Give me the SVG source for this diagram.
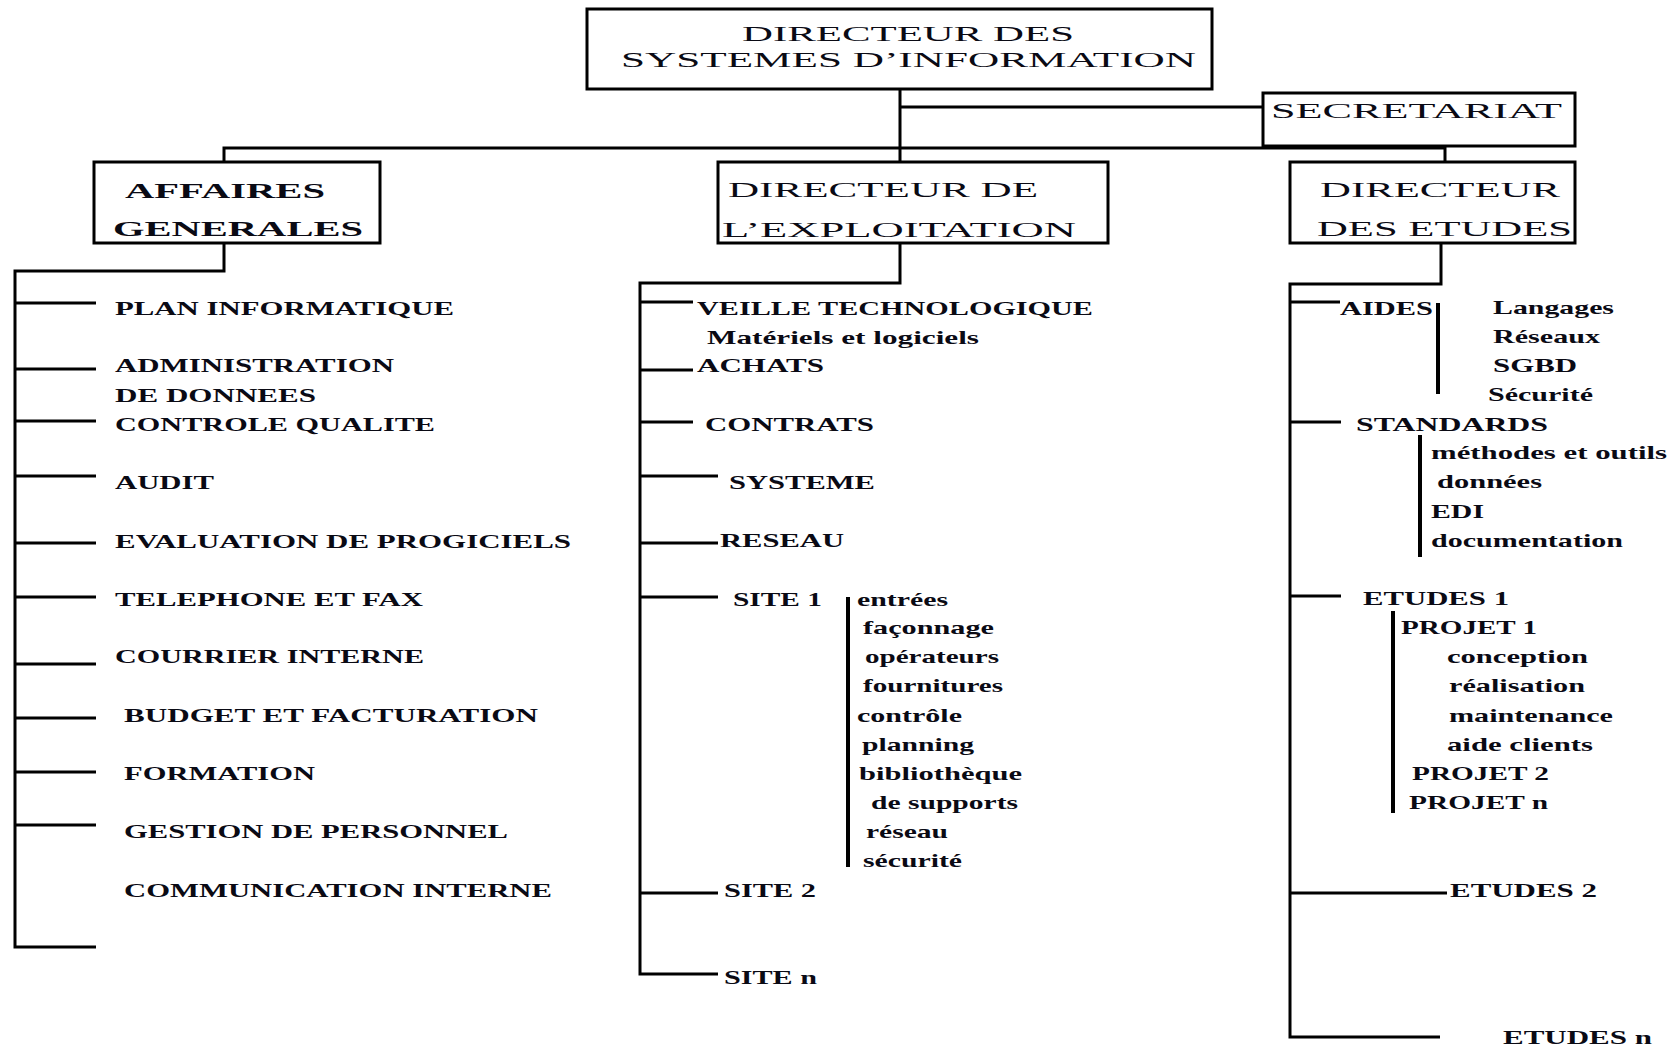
<svg xmlns="http://www.w3.org/2000/svg" width="1674" height="1045" viewBox="0 0 1674 1045">
<style>
.box{fill:#fff;stroke:#000;stroke-width:3}
.ln{fill:none;stroke:#000;stroke-width:3}
.bar{fill:none;stroke:#000;stroke-width:4}
text{font-family:"Liberation Serif","Times New Roman",serif;fill:#0a0a14}
.h{font-size:22px}
.hb{font-size:22px;font-weight:bold}
.t{font-size:19px;font-weight:bold}
</style>
<rect width="1674" height="1045" fill="#fff"/>
<g id="connectors">
<path class="ln" d="M900,90 V162 M900,107 H1263 M224,162 V148 H1445 V162"/>
<path class="ln" d="M224,243 V271 H15 V947 H96 M15,303 H96 M15,369 H96 M15,421 H96 M15,476 H96 M15,543 H96 M15,597 H96 M15,664 H96 M15,718 H96 M15,772 H96 M15,825 H96"/>
<path class="ln" d="M900,243 V283 H640 V974 H718 M640,302 H693 M640,370 H693 M640,422 H693 M640,476 H718 M640,543 H718 M640,597 H718 M640,893 H718"/>
<path class="ln" d="M1441,243 V284 H1290 V1037 H1440 M1290,302 H1340 M1290,422 H1341 M1290,596 H1341 M1290,893 H1447"/>
<path class="bar" d="M848,597 V867 M1438,303 V394 M1420,435 V557 M1393,611 V813"/>
</g>
<g id="dsi">
<rect class="box" x="587" y="9" width="625" height="80"/>
<text class="h" x="742" y="41" textLength="332" lengthAdjust="spacingAndGlyphs">DIRECTEUR DES</text>
<text class="h" x="621" y="67" textLength="575" lengthAdjust="spacingAndGlyphs">SYSTEMES D’INFORMATION</text>
</g>
<g id="secretariat">
<rect class="box" x="1263" y="93" width="312" height="53"/>
<text class="h" x="1271" y="118" textLength="291" lengthAdjust="spacingAndGlyphs">SECRETARIAT</text>
</g>
<g id="affaires-generales">
<rect class="box" x="94" y="162" width="286" height="81"/>
<text class="hb" x="125" y="198" textLength="200" lengthAdjust="spacingAndGlyphs">AFFAIRES</text>
<text class="hb" x="113" y="236" textLength="250" lengthAdjust="spacingAndGlyphs">GENERALES</text>
</g>
<g id="directeur-exploitation">
<rect class="box" x="718" y="162" width="390" height="81"/>
<text class="h" x="728" y="197" textLength="310" lengthAdjust="spacingAndGlyphs">DIRECTEUR DE</text>
<text class="h" x="722" y="237" textLength="354" lengthAdjust="spacingAndGlyphs">L’EXPLOITATION</text>
</g>
<g id="directeur-etudes">
<rect class="box" x="1290" y="162" width="285" height="81"/>
<text class="h" x="1320" y="197" textLength="240" lengthAdjust="spacingAndGlyphs">DIRECTEUR</text>
<text class="h" x="1317" y="236" textLength="255" lengthAdjust="spacingAndGlyphs">DES ETUDES</text>
</g>
<g id="affaires-items">
<text class="t" x="115" y="315" textLength="339" lengthAdjust="spacingAndGlyphs">PLAN INFORMATIQUE</text>
<text class="t" x="115" y="372" textLength="279" lengthAdjust="spacingAndGlyphs">ADMINISTRATION</text>
<text class="t" x="115" y="402" textLength="201" lengthAdjust="spacingAndGlyphs">DE DONNEES</text>
<text class="t" x="115" y="431" textLength="320" lengthAdjust="spacingAndGlyphs">CONTROLE QUALITE</text>
<text class="t" x="115" y="489" textLength="99" lengthAdjust="spacingAndGlyphs">AUDIT</text>
<text class="t" x="115" y="548" textLength="456" lengthAdjust="spacingAndGlyphs">EVALUATION DE PROGICIELS</text>
<text class="t" x="115" y="606" textLength="308" lengthAdjust="spacingAndGlyphs">TELEPHONE ET FAX</text>
<text class="t" x="115" y="663" textLength="309" lengthAdjust="spacingAndGlyphs">COURRIER INTERNE</text>
<text class="t" x="124" y="722" textLength="414" lengthAdjust="spacingAndGlyphs">BUDGET ET FACTURATION</text>
<text class="t" x="124" y="780" textLength="191" lengthAdjust="spacingAndGlyphs">FORMATION</text>
<text class="t" x="124" y="838" textLength="384" lengthAdjust="spacingAndGlyphs">GESTION DE PERSONNEL</text>
<text class="t" x="124" y="897" textLength="428" lengthAdjust="spacingAndGlyphs">COMMUNICATION INTERNE</text>
</g>
<g id="exploitation-items">
<text class="t" x="697" y="315" textLength="396" lengthAdjust="spacingAndGlyphs">VEILLE TECHNOLOGIQUE</text>
<text class="t" x="707" y="344" textLength="272" lengthAdjust="spacingAndGlyphs">Matériels et logiciels</text>
<text class="t" x="697" y="372" textLength="127" lengthAdjust="spacingAndGlyphs">ACHATS</text>
<text class="t" x="705" y="431" textLength="169" lengthAdjust="spacingAndGlyphs">CONTRATS</text>
<text class="t" x="729" y="489" textLength="146" lengthAdjust="spacingAndGlyphs">SYSTEME</text>
<text class="t" x="720" y="547" textLength="124" lengthAdjust="spacingAndGlyphs">RESEAU</text>
<text class="t" x="733" y="606" textLength="89" lengthAdjust="spacingAndGlyphs">SITE 1</text>
<text class="t" x="857" y="606" textLength="91" lengthAdjust="spacingAndGlyphs">entrées</text>
<text class="t" x="863" y="634" textLength="131" lengthAdjust="spacingAndGlyphs">façonnage</text>
<text class="t" x="865" y="663" textLength="134" lengthAdjust="spacingAndGlyphs">opérateurs</text>
<text class="t" x="863" y="692" textLength="140" lengthAdjust="spacingAndGlyphs">fournitures</text>
<text class="t" x="857" y="722" textLength="105" lengthAdjust="spacingAndGlyphs">contrôle</text>
<text class="t" x="862" y="751" textLength="112" lengthAdjust="spacingAndGlyphs">planning</text>
<text class="t" x="859" y="780" textLength="163" lengthAdjust="spacingAndGlyphs">bibliothèque</text>
<text class="t" x="871" y="809" textLength="147" lengthAdjust="spacingAndGlyphs">de supports</text>
<text class="t" x="866" y="838" textLength="82" lengthAdjust="spacingAndGlyphs">réseau</text>
<text class="t" x="863" y="867" textLength="99" lengthAdjust="spacingAndGlyphs">sécurité</text>
<text class="t" x="724" y="897" textLength="92" lengthAdjust="spacingAndGlyphs">SITE 2</text>
<text class="t" x="724" y="984" textLength="93" lengthAdjust="spacingAndGlyphs">SITE n</text>
</g>
<g id="etudes-items">
<text class="t" x="1340" y="315" textLength="93" lengthAdjust="spacingAndGlyphs">AIDES</text>
<text class="t" x="1493" y="314" textLength="121" lengthAdjust="spacingAndGlyphs">Langages</text>
<text class="t" x="1493" y="343" textLength="107" lengthAdjust="spacingAndGlyphs">Réseaux</text>
<text class="t" x="1493" y="372" textLength="84" lengthAdjust="spacingAndGlyphs">SGBD</text>
<text class="t" x="1488" y="401" textLength="105" lengthAdjust="spacingAndGlyphs">Sécurité</text>
<text class="t" x="1356" y="431" textLength="192" lengthAdjust="spacingAndGlyphs">STANDARDS</text>
<text class="t" x="1431" y="459" textLength="236" lengthAdjust="spacingAndGlyphs">méthodes et outils</text>
<text class="t" x="1437" y="488" textLength="105" lengthAdjust="spacingAndGlyphs">données</text>
<text class="t" x="1431" y="518" textLength="53" lengthAdjust="spacingAndGlyphs">EDI</text>
<text class="t" x="1431" y="547" textLength="192" lengthAdjust="spacingAndGlyphs">documentation</text>
<text class="t" x="1363" y="605" textLength="146" lengthAdjust="spacingAndGlyphs">ETUDES 1</text>
<text class="t" x="1401" y="634" textLength="136" lengthAdjust="spacingAndGlyphs">PROJET 1</text>
<text class="t" x="1447" y="663" textLength="141" lengthAdjust="spacingAndGlyphs">conception</text>
<text class="t" x="1449" y="692" textLength="136" lengthAdjust="spacingAndGlyphs">réalisation</text>
<text class="t" x="1449" y="722" textLength="164" lengthAdjust="spacingAndGlyphs">maintenance</text>
<text class="t" x="1447" y="751" textLength="146" lengthAdjust="spacingAndGlyphs">aide clients</text>
<text class="t" x="1412" y="780" textLength="137" lengthAdjust="spacingAndGlyphs">PROJET 2</text>
<text class="t" x="1409" y="809" textLength="139" lengthAdjust="spacingAndGlyphs">PROJET n</text>
<text class="t" x="1450" y="897" textLength="147" lengthAdjust="spacingAndGlyphs">ETUDES 2</text>
<text class="t" x="1503" y="1044" textLength="149" lengthAdjust="spacingAndGlyphs">ETUDES n</text>
</g>
</svg>
